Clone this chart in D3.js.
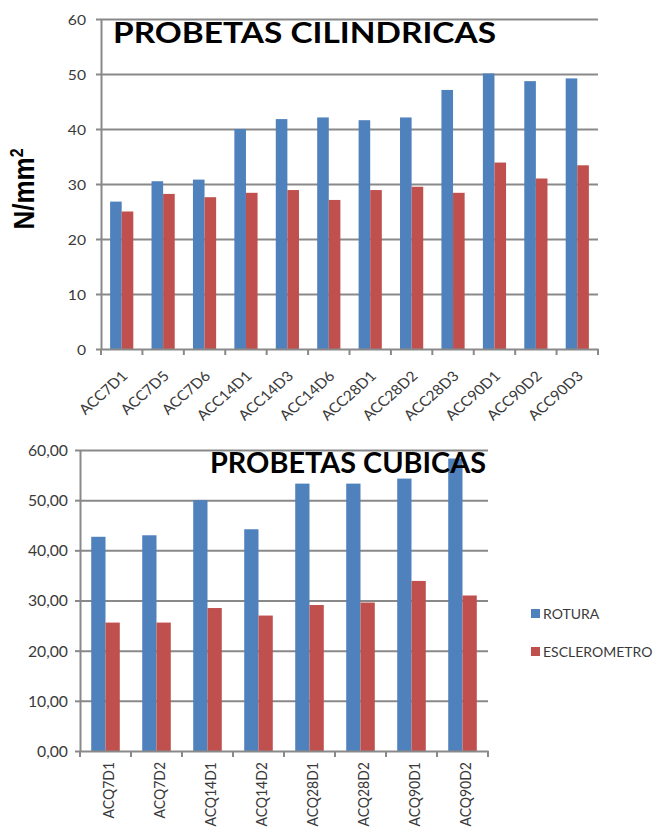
<!DOCTYPE html>
<html>
<head>
<meta charset="utf-8">
<script src="https://cdn.jsdelivr.net/npm/d3@7"></script>
<style>
  html, body { margin: 0; padding: 0; background: #fff; }
  svg { display: block; }
</style>
</head>
<body>
<svg id="chart" width="657" height="829"></svg>
<script>
// Series shared by both panels
const seriesNames = ["ROTURA", "ESCLEROMETRO"];
const seriesColors = ["#4F81BD", "#C0504D"];

// Cylindrical specimens (N/mm²)
const cylCategories = ["ACC7D1", "ACC7D5", "ACC7D6", "ACC14D1", "ACC14D3", "ACC14D6",
                       "ACC28D1", "ACC28D2", "ACC28D3", "ACC90D1", "ACC90D2", "ACC90D3"];
const cylRotura = [26.8, 30.5, 30.8, 40.0, 41.8, 42.1, 41.6, 42.1, 47.1, 50.1, 48.7, 49.2];
const cylEsclerometro = [25.0, 28.2, 27.6, 28.4, 28.9, 27.1, 28.9, 29.5, 28.4, 33.9, 31.0, 33.4];
const cylTicks = [0, 10, 20, 30, 40, 50, 60];

// Cubic specimens (N/mm²)
const cubCategories = ["ACQ7D1", "ACQ7D2", "ACQ14D1", "ACQ14D2", "ACQ28D1", "ACQ28D2", "ACQ90D1", "ACQ90D2"];
const cubRotura = [42.7, 43.0, 50.0, 44.2, 53.3, 53.3, 54.3, 58.3];
const cubEsclerometro = [25.6, 25.6, 28.5, 27.0, 29.1, 29.6, 33.9, 31.0];
const cubTicks = [0, 10, 20, 30, 40, 50, 60];

const GRID = "#898989";
const INK = "#3a3a3a";
const LABEL_FONT = "Lato, 'Open Sans', sans-serif";

const svg = d3.select("#chart");
svg.append("rect").attr("width", 657).attr("height", 829).attr("fill", "#fff");

svg.append("defs").append("clipPath").attr("id", "topClip")
  .append("rect").attr("x", 0).attr("y", 0).attr("width", 657).attr("height", 423);

function drawPanel(cfg) {
  const g = svg.append("g");
  if (cfg.clip) g.attr("clip-path", `url(#${cfg.clip})`);

  const x0 = d3.scaleBand().domain(cfg.categories).range([cfg.left, cfg.right]);
  const bw = x0.bandwidth();
  const x1 = d3.scaleBand().domain(seriesNames).range([bw * 0.22, bw * 0.78]);
  const y = d3.scaleLinear().domain([0, 60]).range([cfg.bottom, cfg.top]);

  // horizontal gridlines
  const grid = g.append("g")
    .attr("transform", `translate(${cfg.left},0)`)
    .call(d3.axisLeft(y).tickValues(cfg.ticks.filter(v => v > 0))
      .tickSize(-(cfg.right - cfg.left)).tickSizeOuter(0).tickFormat(""));
  grid.select(".domain").remove();
  grid.selectAll("line").attr("stroke", GRID).attr("stroke-width", 2);

  // grouped bars
  const rows = cfg.categories.map((c, i) => ({ cat: c, values: [cfg.rotura[i], cfg.escl[i]] }));
  g.append("g").selectAll("g").data(rows).join("g")
    .attr("transform", d => `translate(${x0(d.cat)},0)`)
    .selectAll("rect")
    .data(d => d.values.map((v, k) => ({ name: seriesNames[k], v })))
    .join("rect")
      .attr("x", d => x1(d.name))
      .attr("width", x1.bandwidth())
      .attr("y", d => y(d.v))
      .attr("height", d => y(0) - y(d.v))
      .attr("fill", d => seriesColors[seriesNames.indexOf(d.name)]);

  // value axis
  const ya = g.append("g")
    .attr("transform", `translate(${cfg.left},0)`)
    .call(d3.axisLeft(y).tickValues(cfg.ticks).tickSize(5).tickSizeOuter(0).tickFormat(cfg.fmt));
  ya.attr("font-family", null).attr("font-size", null);
  ya.select(".domain").attr("stroke", GRID).attr("stroke-width", 2);
  ya.selectAll(".tick line").attr("stroke", GRID).attr("stroke-width", 2);
  ya.selectAll(".tick text")
    .attr("x", 0)
    .attr("dy", "0.36em")
    .attr("transform", `translate(${-cfg.labelGap},0) scale(${cfg.sx},1)`)
    .attr("text-anchor", "end")
    .attr("fill", INK)
    .style("font-family", LABEL_FONT)
    .style("font-size", cfg.tickFont + "px");

  // category axis
  const xa = g.append("g")
    .attr("transform", `translate(0,${cfg.bottom})`)
    .call(d3.axisBottom(x0).tickSize(0).tickSizeOuter(0).tickFormat(""));
  xa.select(".domain").attr("stroke", GRID).attr("stroke-width", 2);
  xa.selectAll(".tick").remove();
  const bounds = cfg.categories.map(c => x0(c)).concat([x0.range()[1]]);
  xa.selectAll("line.bound").data(bounds).join("line")
    .attr("class", "bound")
    .attr("x1", d => d).attr("x2", d => d)
    .attr("y1", 0).attr("y2", 6)
    .attr("stroke", GRID).attr("stroke-width", 2);

  // category labels
  g.append("g").selectAll("text").data(cfg.categories).join("text")
    .attr("transform", d => `translate(${x0(d) + bw / 2 + cfg.catDx},${cfg.catY}) scale(${cfg.sx},1) rotate(${cfg.catAngle})`)
    .attr("text-anchor", "end")
    .attr("fill", INK)
    .style("font-family", LABEL_FONT)
    .style("font-size", cfg.catFont + "px")
    .text(d => d);

  // panel title, drawn over the bars
  g.append("text")
    .attr("x", cfg.titleX).attr("y", cfg.titleY)
    .attr("textLength", cfg.titleLen).attr("lengthAdjust", "spacingAndGlyphs")
    .attr("fill", "#000")
    .style("font-family", "Lato, 'Open Sans', sans-serif")
    .style("font-weight", "bold")
    .style("font-size", "29px")
    .text(cfg.title);

  return g;
}

// Upper panel: cylindrical specimens
const topPanel = drawPanel({
  categories: cylCategories, rotura: cylRotura, escl: cylEsclerometro, ticks: cylTicks,
  left: 101, right: 598, top: 19, bottom: 349,
  fmt: d3.format("d"), labelGap: 15, tickFont: 14, sx: 1.12,
  catDx: 7, catY: 377, catAngle: -45, catFont: 14,
  title: "PROBETAS CILINDRICAS", titleX: 113, titleY: 43, titleLen: 383,
  clip: "topClip"
});

// unit label on the upper panel
const unit = topPanel.append("text")
  .attr("transform", "translate(34,189) scale(1.12,1) rotate(-90)")
  .attr("text-anchor", "middle")
  .attr("fill", "#000")
  .style("font-family", "'Liberation Sans', Arial, sans-serif")
  .style("font-weight", "bold")
  .style("font-size", "26px");
unit.append("tspan").text("N/mm");
unit.append("tspan").attr("dy", "-10").style("font-size", "16px").text("2");

// Lower panel: cubic specimens
const commaFmt = v => d3.format(".2f")(v).replace(".", ",");
drawPanel({
  categories: cubCategories, rotura: cubRotura, escl: cubEsclerometro, ticks: cubTicks,
  left: 80, right: 488, top: 450, bottom: 751,
  fmt: commaFmt, labelGap: 12, tickFont: 15, sx: 1.05,
  catDx: 8, catY: 762, catAngle: -90, catFont: 14,
  title: "PROBETAS CUBICAS", titleX: 210, titleY: 473, titleLen: 276
});

// legend
const legend = svg.append("g").selectAll("g").data(seriesNames).join("g")
  .attr("transform", (d, i) => `translate(531,${609 + i * 38})`);
legend.append("rect").attr("width", 9).attr("height", 9)
  .attr("fill", (d, i) => seriesColors[i]);
legend.append("text")
  .attr("x", 12).attr("y", 9.5)
  .attr("fill", INK)
  .style("font-family", LABEL_FONT)
  .style("font-size", "14px")
  .text(d => d);
</script>
</body>
</html>
